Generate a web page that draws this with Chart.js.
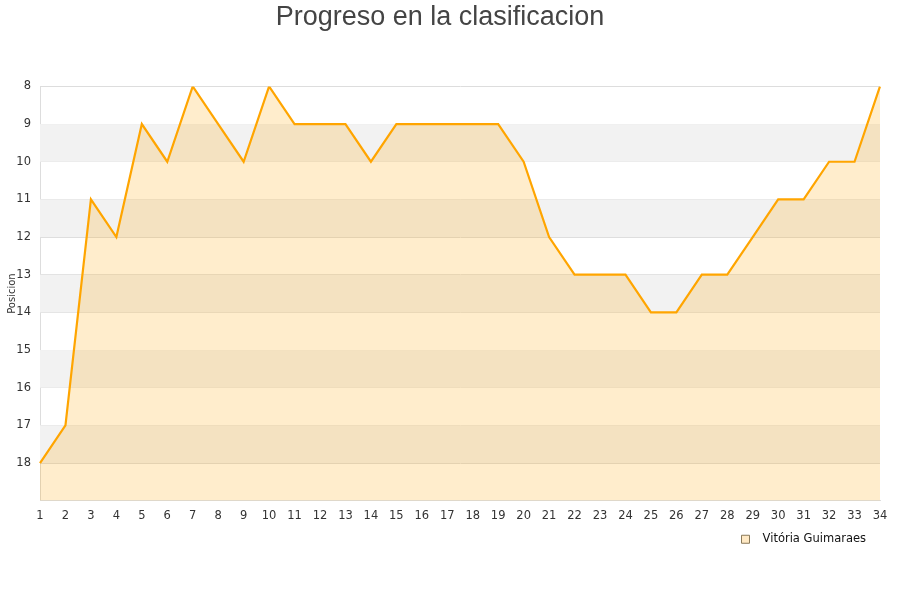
<!DOCTYPE html>
<html>
<head>
<meta charset="utf-8">
<script src="https://cdn.jsdelivr.net/npm/chart.js@4/dist/chart.umd.min.js"></script>
<style>
  body { margin: 0; background: #fff; }
  #wrap { width: 900px; height: 600px; }
</style>
</head>
<body>
<div id="wrap"><canvas id="myChart"></canvas></div>
<script>
const jornadas = ['1', '2', '3', '4', '5', '6', '7', '8', '9', '10', '11', '12', '13', '14', '15', '16', '17',
  '18', '19', '20', '21', '22', '23', '24', '25', '26', '27', '28', '29', '30', '31', '32', '33', '34']
const posiciones = [18, 17, 11, 12, 9, 10, 8, 9, 10, 8, 9, 9, 9, 10, 9, 9, 9, 9, 9, 10, 12, 13, 13, 13, 14, 14,
  13, 13, 12, 11, 11, 10, 10, 8]
const equipo = 'Vitória Guimaraes'
const titulo = 'Progreso en la clasificacion'

// grey bands every other position
const bandas = {
  id: 'bandas',
  beforeDatasetsDraw(chart) {
    const { ctx, chartArea, scales } = chart
    const y = scales.y
    ctx.save()
    ctx.fillStyle = '#f2f2f2'
    for (let v = 9; v < 19; v += 2) {
      const top = y.getPixelForValue(v)
      const bottom = y.getPixelForValue(v + 1)
      ctx.fillRect(chartArea.left, top, chartArea.right - chartArea.left, bottom - top)
    }
    ctx.restore()
  }
}

const myChart = document.getElementById('myChart').getContext('2d')

const lineChart = new Chart(myChart, {
  type: 'line',
  data: {
    labels: jornadas,
    datasets: [{
      label: equipo,
      data: posiciones,
      borderColor: '#FFA500',
      backgroundColor: 'rgba(255, 165, 0, 0.2)',
      borderWidth: 2.2,
      pointRadius: 0,
      tension: 0,
      fill: 'start'
    }]
  },
  options: {
    responsive: true,
    maintainAspectRatio: false,
    animation: false,
    layout: { padding: { left: 0, right: 20, top: 1, bottom: 45 } },
    plugins: {
      title: {
        display: true,
        text: titulo,
        color: '#444',
        font: { family: 'Liberation Sans', size: 27, weight: 'normal' },
        padding: { top: 0, bottom: 53 }
      },
      legend: {
        position: 'bottom',
        align: 'end',
        labels: {
          color: '#111',
          font: { family: 'DejaVu Sans', size: 11.5 },
          boxWidth: 8,
          boxHeight: 8,
          padding: 3,
          generateLabels: (chart) => Chart.defaults.plugins.legend.labels.generateLabels(chart).map(l => {
            l.text = '  ' + l.text + '   '
            l.lineWidth = 1
            l.strokeStyle = '#8a7a5a'
            l.fillStyle = '#ffe9c4'
            return l
          })
        }
      },
      tooltip: { enabled: false }
    },
    scales: {
      x: {
        offset: false,
        grid: { display: false, drawTicks: false },
        border: { color: '#ddd' },
        ticks: {
          color: '#333',
          font: { family: 'DejaVu Sans', size: 11.5 },
          maxRotation: 0,
          autoSkip: false,
          padding: 8
        }
      },
      y: {
        reverse: true,
        min: 8,
        max: 19,
        afterFit: (s) => { s.width = 40 },
        grid: { color: '#ddd', drawTicks: false },
        border: { color: '#ddd' },
        title: {
          display: true,
          text: 'Posicion',
          color: '#333',
          font: { family: 'DejaVu Sans', size: 10 },
          padding: { top: 6, bottom: 0 }
        },
        ticks: {
          stepSize: 1,
          color: '#333',
          font: { family: 'DejaVu Sans', size: 11.5 },
          padding: 9,
          callback: (v) => (v === 19 ? '' : v)
        }
      }
    }
  },
  plugins: [bandas]
})
</script>
</body>
</html>
